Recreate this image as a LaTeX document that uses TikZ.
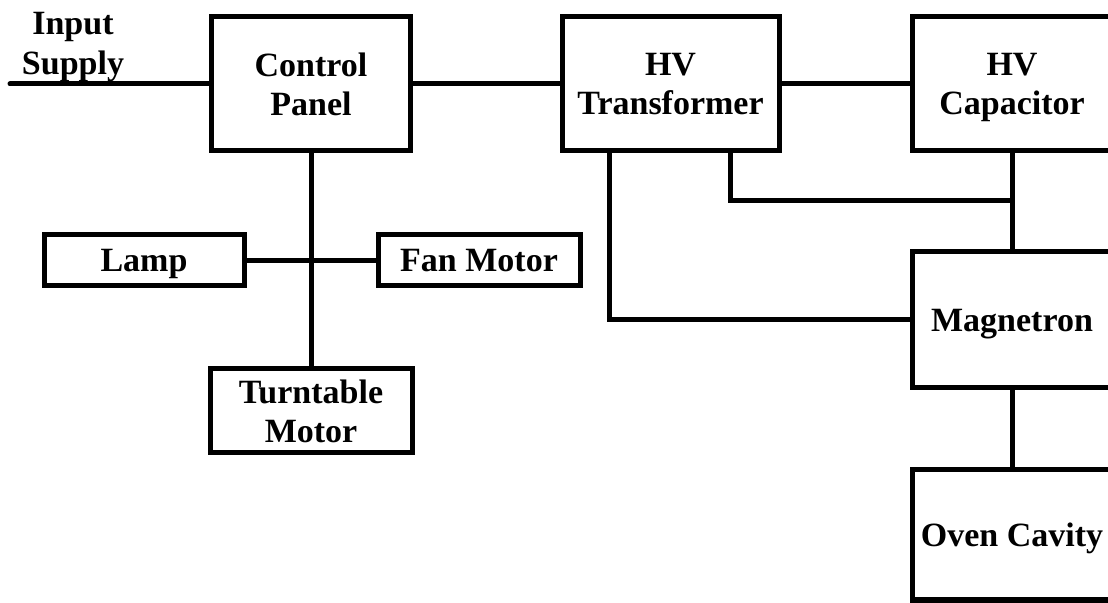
\documentclass[tikz,border=0pt]{standalone}
\usepackage{fontspec}
\setmainfont{Liberation Serif}
\tikzstyle{block}=[draw=black, line width=2.5pt, align=center, inner sep=0pt, text depth=0pt, font=\bfseries\fontsize{17}{19.5}\selectfont]
\tikzstyle{wire}=[line width=2.5pt]
\tikzstyle{tag}=[align=center, inner sep=0pt, text depth=0pt, font=\bfseries\fontsize{17}{20}\selectfont]

\begin{document}
\begin{tikzpicture}[x=0.5pt, y=-0.5pt]
				\useasboundingbox (0,0) rectangle (1108,603);
				\clip (0,0) rectangle (1108,603);
				\fill[white] (0,0) rectangle (1108,603);

				% Main chain
				\node[block, minimum width=99.5pt, minimum height=67pt] (cp) at (311,84) {Control\\Panel};
				\node[block, minimum width=108.5pt, minimum height=67pt] (hvt) at (670.5,84) {HV\\Transformer};
				\node[block, minimum width=100pt, minimum height=67pt] (cap) at (1012,84) {HV\\Capacitor};
				\node[block, minimum width=100pt, minimum height=68pt] (mag) at (1012,320) {Magnetron};
				\node[block, minimum width=100pt, minimum height=65pt] (oven) at (1012,535) {Oven Cavity};

				% Loads of the control panel
				\node[block, minimum width=100pt, minimum height=25.5pt] (lamp) at (144,260.5) {Lamp};
				\node[block, minimum width=101pt, minimum height=25.5pt] (fan) at (479,260.5) {Fan Motor};
				\node[block, minimum width=101pt, minimum height=42pt] (tt) at (311,411) {Turntable\\Motor};

				\node[tag] (insup) at (73,43) {Input\\Supply};
				\coordinate (in) at (10,84);
				\coordinate (jct) at (1012,201);

				\draw[wire, line cap=round] (in) -- (cp.west);
				\draw[wire] (cp) -- (hvt);
				\draw[wire] (hvt) -- (cap);
				\draw[wire] (cap) -- (mag);
				\draw[wire] (mag) -- (oven);
				\draw[wire] (cp) -- (tt);
				\draw[wire] (lamp) -- (fan);
				\draw[wire] ([xshift=25pt]hvt.south west) |- (mag.west);
				\draw[wire] ([xshift=-25.5pt]hvt.south east) |- (jct);
			\end{tikzpicture}
\end{document}
